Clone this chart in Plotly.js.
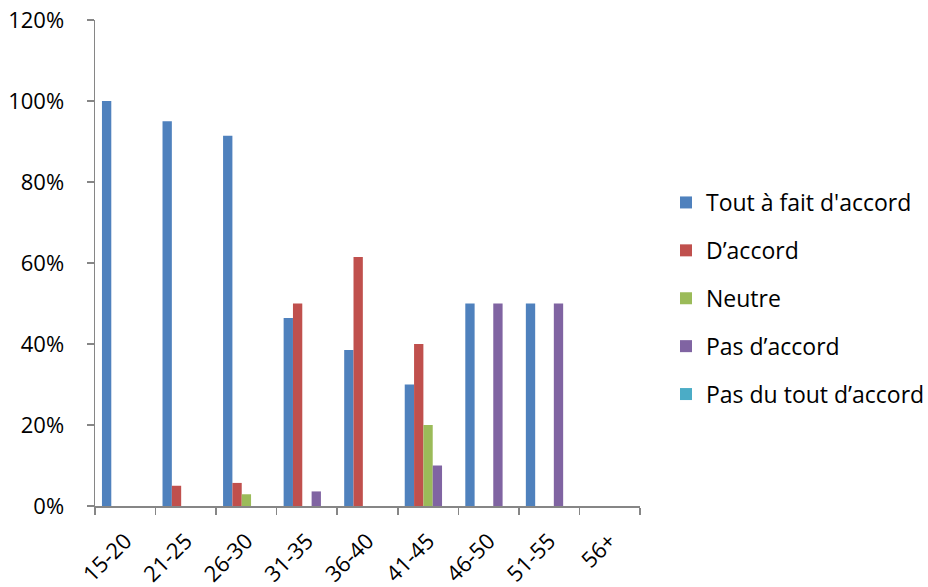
<!DOCTYPE html>
<html>
<head>
<meta charset="utf-8">
<script src="https://cdn.plot.ly/plotly-3.0.1.min.js"></script>
<style>html,body{margin:0;padding:0;background:#fff;}#chart{width:928px;height:587px;}</style>
</head>
<body>
<div id="chart"></div>
<script>
var categories = ['15-20','21-25','26-30','31-35','36-40','41-45','46-50','51-55','56+'];
var seriesNames = ["Tout à fait d'accord", "D’accord", "Neutre", "Pas d’accord", "Pas du tout d’accord"];
var toutAFait = [100, 95, 91.4, 46.4, 38.5, 30, 50, 50, 0];
var dAccord = [0, 5, 5.7, 50, 61.5, 40, 0, 0, 0];
var neutre = [0, 0, 2.9, 0, 0, 20, 0, 0, 0];
var pasDAccord = [0, 0, 0, 3.6, 0, 10, 50, 50, 0];
var pasDuTout = [0, 0, 0, 0, 0, 0, 0, 0, 0];
var yTickVals = [0, 20, 40, 60, 80, 100, 120];

var colors = ['#4F81BD', '#C0504D', '#9BBB59', '#8064A2', '#4BACC6'];
var series = [toutAFait, dAccord, neutre, pasDAccord, pasDuTout];

var traces = series.map(function (vals, i) {
  return {
    type: 'bar',
    name: seriesNames[i],
    x: categories,
    y: vals,
    legendgroup: 'g' + i,
    marker: {color: colors[i], line: {width: 0}},
    hoverinfo: 'none'
  };
});

var fam = '"Open Sans", "Liberation Sans", sans-serif';
var font = {family: fam, size: 22, color: '#000'};

var layout = {
  width: 928,
  height: 587,
  margin: {l: 95, r: 288, t: 20, b: 81, pad: 0},
  paper_bgcolor: '#fff',
  plot_bgcolor: '#fff',
  font: font,
  barmode: 'group',
  bargap: 0.23,
  bargroupgap: 0,
  showlegend: true,
  legend: {
    xref: 'container', yref: 'container',
    x: 666 / 928, xanchor: 'left',
    y: 1 - 181 / 587, yanchor: 'top',
    font: {family: fam, size: 23, color: '#000'},
    traceorder: 'grouped',
    tracegroupgap: 15,
    itemwidth: 30,
    bgcolor: 'rgba(0,0,0,0)'
  },
  xaxis: {
    type: 'category',
    showline: true, linecolor: '#868686', linewidth: 1.5,
    ticks: 'outside', tickson: 'boundaries', ticklen: 7, tickcolor: '#868686', tickwidth: 1.5,
    tickangle: -45,
    ticklabelstandoff: 12,
    showgrid: false, zeroline: false,
    tickfont: {family: fam, size: 22, color: '#000'}
  },
  yaxis: {
    range: [0, 120],
    tickvals: yTickVals,
    ticktext: yTickVals.map(function (v) { return v + '%'; }),
    showline: true, linecolor: '#868686', linewidth: 1.5,
    ticks: 'outside', ticklen: 7, tickcolor: '#868686', tickwidth: 1.5,
    ticklabelstandoff: 18,
    showgrid: false, zeroline: false,
    tickfont: {family: fam, size: 22, color: '#000'}
  }
};

Plotly.newPlot('chart', traces, layout, {displayModeBar: false, staticPlot: true});
</script>
</body>
</html>
